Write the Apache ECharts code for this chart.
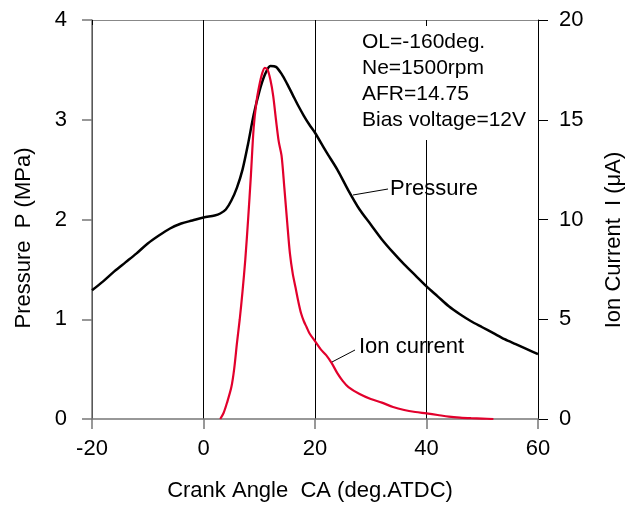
<!DOCTYPE html>
<html>
<head>
<meta charset="utf-8">
<script src="https://cdn.jsdelivr.net/npm/echarts@6/dist/echarts.min.js"></script>
<style>
  html, body { margin: 0; padding: 0; background: #fff; }
  #chart { width: 633px; height: 505px; }
</style>
</head>
<body>
<div id="chart"></div>
<script>
// Crank angle (deg ATDC) and cylinder pressure (MPa)
const caPressure = [-20, -18, -16, -14, -12, -10, -8, -6, -4, -2, 0, 2, 3, 4, 5, 6, 7, 8, 9, 10,
  11, 12, 13, 14, 15, 16, 17, 18, 19, 20, 22, 24, 26, 28, 30, 32, 34, 36, 38, 40,
  42, 44, 46, 48, 50, 52, 54, 56, 58, 60];
const pressure = [1.29, 1.38, 1.48, 1.57, 1.66, 1.76, 1.84, 1.91, 1.96, 1.99, 2.02, 2.04, 2.06, 2.10, 2.19, 2.32, 2.50, 2.76, 3.05, 3.28,
  3.45, 3.54, 3.53, 3.46, 3.36, 3.25, 3.14, 3.04, 2.95, 2.87, 2.68, 2.50, 2.29, 2.10, 1.95, 1.80, 1.67, 1.55, 1.44, 1.33,
  1.23, 1.13, 1.05, 0.98, 0.92, 0.86, 0.80, 0.75, 0.70, 0.65];

// Crank angle (deg ATDC) and ion current (uA)
const caIon = [3.0, 3.6, 4.2, 5.0, 5.5, 6.0, 6.5, 7.0, 7.5, 8.0, 8.5, 9.0, 9.5, 10.0, 10.5, 11.0, 11.5, 12.0, 12.5, 13.0,
  13.5, 14.0, 14.5, 15.0, 15.5, 16.0, 16.5, 17.0, 17.5, 18.0, 18.5, 19.0, 20.0, 21.0, 22.0, 23.0, 24.0, 25.0, 26.0, 28.0,
  30.0, 32.0, 34.0, 36.0, 38.0, 40.0, 42.0, 44.0, 46.0, 48.0, 50.0, 52.0];
const ionCurrent = [0, 0.3, 0.8, 1.6, 2.5, 3.8, 5.0, 6.4, 8.0, 10.0, 12.2, 14.6, 15.9, 16.7, 17.3, 17.6, 17.5, 17.0, 16.2, 15.0,
  13.9, 13.2, 11.6, 9.9, 8.3, 7.3, 6.6, 5.9, 5.3, 4.9, 4.6, 4.3, 3.9, 3.5, 3.2, 2.8, 2.3, 1.9, 1.6, 1.25,
  1.0, 0.82, 0.6, 0.45, 0.35, 0.28, 0.2, 0.12, 0.07, 0.04, 0.02, 0.0];

const conditionLines = ['OL=-160deg.', 'Ne=1500rpm', 'AFR=14.75', 'Bias voltage=12V'];
const xTitle = 'Crank Angle  CA (deg.ATDC)';
const yLeftTitle = 'Pressure  P (MPa)';
const yRightTitle = 'Ion Current  I (μA)';

const FONT = '"Liberation Sans", Arial, sans-serif';

const zip = (xs, ys) => xs.map((x, i) => [x, ys[i]]);

const chart = echarts.init(document.getElementById('chart'), null, { renderer: 'canvas' });

chart.setOption({
  animation: false,
  backgroundColor: '#fff',
  grid: { left: 92, right: 95, top: 20, bottom: 86, containLabel: false },
  xAxis: [
    {
      type: 'value', min: -20, max: 60, interval: 20, position: 'bottom',
      axisLine: { onZero: false, lineStyle: { color: '#777', width: 1.5 } },
      axisTick: { show: true, inside: false, length: 10, lineStyle: { color: '#777', width: 1.5 } },
      axisLabel: { fontSize: 22, color: '#000', fontFamily: FONT, margin: 19 },
      splitLine: { show: true, lineStyle: { color: '#000', width: 1 } }
    },
    {
      type: 'value', min: -20, max: 60, interval: 20, position: 'top',
      axisLine: { show: true, onZero: false, lineStyle: { color: '#888', width: 1 } },
      axisTick: { show: true, inside: true, length: 5, lineStyle: { color: '#000', width: 1 } },
      axisLabel: { show: false },
      splitLine: { show: false }
    }
  ],
  yAxis: [
    {
      type: 'value', min: 0, max: 4, interval: 1, position: 'left',
      axisLine: { show: true, onZero: false, lineStyle: { color: '#777', width: 1.5 } },
      axisTick: { show: true, inside: false, length: 10, lineStyle: { color: '#777', width: 1.5 } },
      axisLabel: { fontSize: 22, color: '#000', fontFamily: FONT, margin: 25 },
      splitLine: { show: false }
    },
    {
      type: 'value', min: 0, max: 20, interval: 5, position: 'right',
      axisLine: { show: true, onZero: false, lineStyle: { color: '#000', width: 1 } },
      axisTick: { show: true, inside: false, length: 10, lineStyle: { color: '#000', width: 1 } },
      axisLabel: { fontSize: 22, color: '#000', fontFamily: FONT, margin: 21 },
      splitLine: { show: false }
    }
  ],
  series: [
    {
      name: 'Pressure', type: 'line', xAxisIndex: 0, yAxisIndex: 0,
      data: zip(caPressure, pressure), showSymbol: false, smooth: 0.3,
      lineStyle: { color: '#000', width: 2.5 }, z: 3
    },
    {
      name: 'Ion current', type: 'line', xAxisIndex: 0, yAxisIndex: 1,
      data: zip(caIon, ionCurrent), showSymbol: false, smooth: 0.3,
      lineStyle: { color: '#e2002c', width: 2.2 }, z: 4
    }
  ],
  graphic: [
    // white panel behind the operating-condition note
    { type: 'rect', z: 1, shape: { x: 352, y: 26, width: 182, height: 114 }, style: { fill: '#fff' } },
    {
      type: 'text', z: 5, left: 362, top: 29,
      style: { text: conditionLines.join('\n'), font: '21px ' + FONT, fill: '#000', lineHeight: 26 }
    },
    // series labels with leader lines
    { type: 'line', z: 5, shape: { x1: 353, y1: 195, x2: 388, y2: 189 }, style: { stroke: '#000', lineWidth: 1 } },
    { type: 'text', z: 5, left: 390, top: 178, style: { text: 'Pressure', font: '22px ' + FONT, fill: '#000' } },
    { type: 'line', z: 5, shape: { x1: 332, y1: 362, x2: 355, y2: 350 }, style: { stroke: '#000', lineWidth: 1 } },
    { type: 'text', z: 5, left: 359, top: 336, style: { text: 'Ion current', font: '22px ' + FONT, fill: '#000' } },
    // axis titles
    {
      type: 'text', z: 5, x: 310, y: 491,
      style: { text: xTitle, font: '22px ' + FONT, fill: '#000', align: 'center', verticalAlign: 'middle' }
    },
    {
      type: 'text', z: 5, x: 24, y: 238, rotation: Math.PI / 2,
      style: { text: yLeftTitle, font: '22px ' + FONT, fill: '#000', align: 'center', verticalAlign: 'middle' }
    },
    {
      type: 'text', z: 5, x: 614, y: 240, rotation: Math.PI / 2,
      style: { text: yRightTitle, font: '22px ' + FONT, fill: '#000', align: 'center', verticalAlign: 'middle' }
    }
  ]
});
</script>
</body>
</html>
